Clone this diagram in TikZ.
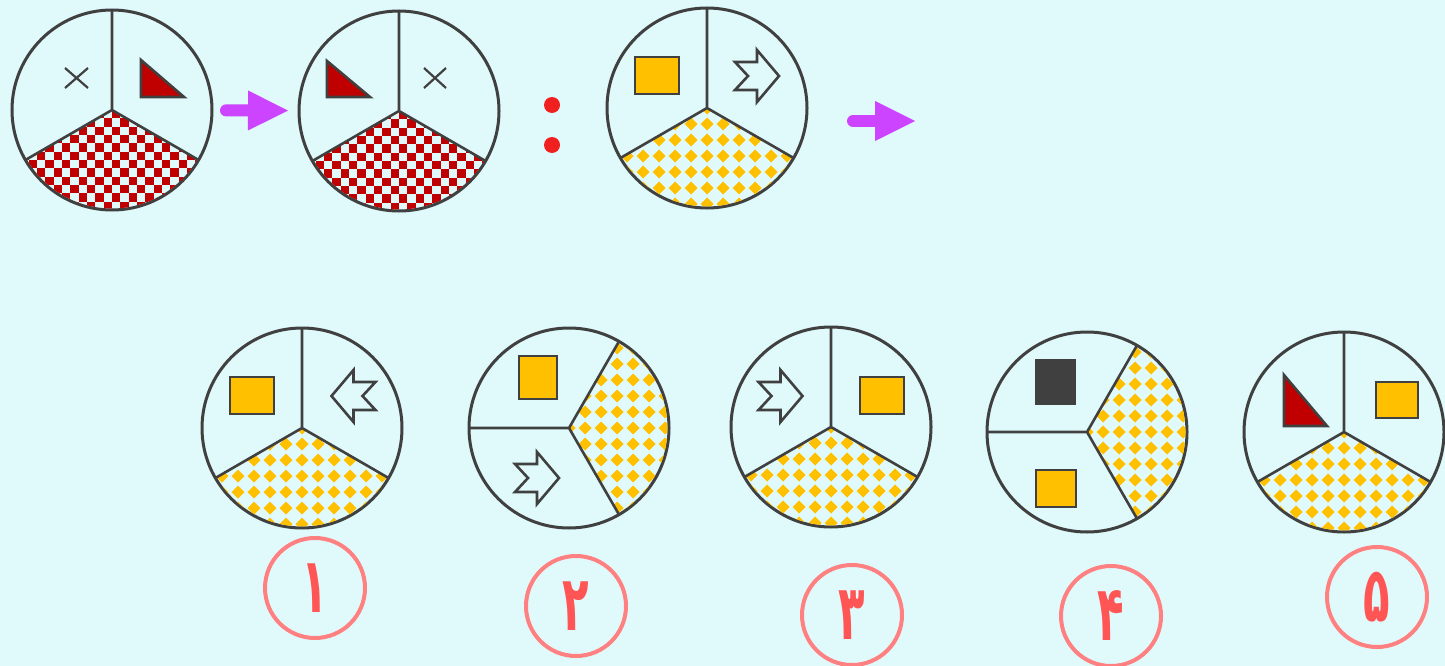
\documentclass[tikz,border=0pt]{standalone}
\usepackage{graphicx}
\usepackage{fontspec}
\newfontfamily\numfont[Script=Arabic]{DejaVu Sans}
\usetikzlibrary{arrows.meta,positioning}

\definecolor{bg}{RGB}{224,250,252}
\definecolor{ink}{RGB}{64,64,64}
\definecolor{gold}{RGB}{255,192,0}
\definecolor{wine}{RGB}{192,0,0}
\definecolor{pointer}{RGB}{204,68,255}
\definecolor{ringred}{RGB}{255,128,128}
\definecolor{digitred}{RGB}{255,85,85}
\definecolor{dotred}{RGB}{240,32,32}

% red checkerboard in the lower third of a wheel
\newcommand{\chkpat}[1]{%
  \begin{scope}[shift={(#1)}]
    \clip (0,0) -- (30:98.5) arc[start angle=30,end angle=150,radius=98.5] -- cycle;
    \foreach \j in {0,...,12}
      \foreach \i in {-6,...,6}
        \fill[wine] ({(2*\i+mod(\j,2))*8.33},{\j*8.33}) rectangle ++(8.33,8.33);
  \end{scope}}
% yellow diamonds in the third between two angles
\newcommand{\diapat}[3]{%
  \begin{scope}[shift={(#1)}]
    \clip (0,0) -- (#2:98.5) arc[start angle=#2,end angle=#3,radius=98.5] -- cycle;
    \foreach \j in {-6,...,6}
      \foreach \i in {-6,...,6}
        \fill[gold,shift={(\i*16,\j*16)}] (0,-6.5) -- (6.5,0) -- (0,6.5) -- (-6.5,0) -- cycle;
  \end{scope}}
% notched arrow, #2 = 1 points right, -1 points left
\newcommand{\notch}[2]{%
  \draw[glyph,shift={(#1)},xscale=#2]
    (-22,-14) -- (0,-14) -- (0,-26) -- (22,0) -- (0,26) -- (0,14)
    -- (-22,14) -- (-9,0) -- cycle;}
% tall narrow option digit
\newcommand{\optnum}[1]{\scalebox{0.68}[1.2]{#1}}

\begin{document}
\begin{tikzpicture}[x=1pt, y=-1pt,
  wheel/.style={circle, draw=ink, line width=3pt, minimum size=200pt,
    inner sep=0pt, outer sep=0pt},
  split/.style={draw=ink, line width=2.6pt},
  glyph/.style={draw=ink, line width=2.6pt},
  cross/.style={draw=ink, line width=2.2pt},
  link/.style={draw=pointer, line width=12pt, line cap=round,
    -{Triangle[length=40pt,width=40pt,line width=0pt]}},
  reddot/.style={circle, fill=dotred, minimum size=16pt, inner sep=0pt},
  numring/.style={circle, draw=ringred, line width=4pt, minimum size=100pt,
    inner sep=0pt, text=digitred, font=\numfont\bfseries\fontsize{64}{64}\selectfont}]
\useasboundingbox (0,0) rectangle (1445,666);
\fill[bg] (0,0) rectangle (1445,666);

% question row
\node[wheel] (pA) at (112,110) {};
\node[wheel] (pB) at (399,111) {};
\node[wheel] (pC) at (707,108) {};
\chkpat{pA}
\chkpat{pB}
\diapat{pC}{30}{150}
\foreach \w in {pA,pB,pC}
  \draw[split] (\w.center) -- (\w.90) (\w.center) -- (\w.210) (\w.center) -- (\w.-30);
% contents
\draw[cross] (65,68) -- (88,88) (65,88) -- (88,68);
\draw[glyph, fill=wine] (141,60) -- (141,97) -- (184,97) -- cycle;
\draw[glyph, fill=wine] (327,61) -- (327,97) -- (370,97) -- cycle;
\draw[cross] (424,68) -- (446,88) (424,88) -- (446,68);
\draw[glyph, fill=gold] (635,57) rectangle (679,94);
\notch{757,76}{1}
% arrows and colon
\draw[link, shorten <=14pt, shorten >=11pt] (pA) -- (pB);
\node[reddot] (d1) at (552,105) {};
\node[reddot] (d2) at (552,145) {};
\coordinate (q1) at (853,121);
\coordinate (q2) at (915,121);
\draw[link] (q1) -- (q2);

% answer row
\node[wheel] (o1) at (302,428) {};
\node[wheel] (o2) at (569,428) {};
\node[wheel] (o3) at (831,427) {};
\node[wheel] (o4) at (1087,432) {};
\node[wheel] (o5) at (1344,432) {};
\diapat{o1}{30}{150}
\diapat{o2}{-60}{60}
\diapat{o3}{30}{150}
\diapat{o4}{-60}{60}
\diapat{o5}{30}{150}
\foreach \w in {o1,o3,o5}
  \draw[split] (\w.center) -- (\w.90) (\w.center) -- (\w.210) (\w.center) -- (\w.-30);
\foreach \w in {o2,o4}
  \draw[split] (\w.center) -- (\w.180) (\w.center) -- (\w.60) (\w.center) -- (\w.-60);
% contents
\draw[glyph, fill=gold] (230,377) rectangle (274,414);
\notch{353.5,396}{-1}
\draw[glyph, fill=gold] (519,356) rectangle (557,399);
\notch{537,478}{1}
\notch{780.5,396}{1}
\draw[glyph, fill=gold] (860,377) rectangle (904,414);
\draw[glyph, fill=ink] (1036,360) rectangle (1075,404);
\draw[glyph, fill=gold] (1036,470) rectangle (1076,507);
\draw[glyph, fill=wine] (1284,375) -- (1284,426) -- (1327,426) -- cycle;
\draw[glyph, fill=gold] (1376,382) rectangle (1418,418);

% option numbers
\node[numring] (n1) at (315,588) {\optnum{۱}};
\node[numring] (n2) at (576,606) {\optnum{۲}};
\node[numring] (n3) at (852,615) {\optnum{۳}};
\node[numring] (n4) at (1111,616) {\optnum{۴}};
\node[numring] (n5) at (1377,597) {\optnum{۵}};
\end{tikzpicture}
\end{document}
